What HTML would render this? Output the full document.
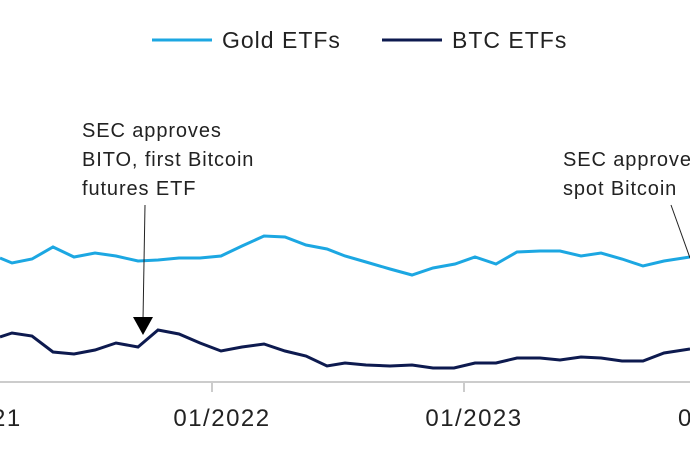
<!DOCTYPE html>
<html><head><style>body{margin:0;background:#fff}</style></head><body>
<svg width="690" height="455" xmlns="http://www.w3.org/2000/svg" font-family="Liberation Sans, sans-serif">
<line x1="152" y1="40" x2="212" y2="40" stroke="#1ca7e2" stroke-width="3"/>
<text x="222" y="48" font-size="23" letter-spacing="1" fill="#222">Gold ETFs</text>
<line x1="382" y1="40" x2="442" y2="40" stroke="#0d1a4f" stroke-width="3"/>
<text x="452" y="48" font-size="23" letter-spacing="1" fill="#222">BTC ETFs</text>
<g font-size="20" letter-spacing="0.9" fill="#222">
<text x="82" y="137">SEC approves</text>
<text x="82" y="166">BITO, first Bitcoin</text>
<text x="82" y="195">futures ETF</text>
<text x="563" y="166">SEC approves</text>
<text x="563" y="195">spot Bitcoin</text>
</g>
<line x1="0" y1="382" x2="690" y2="382" stroke="#ccc" stroke-width="2"/>
<line x1="212" y1="382" x2="212" y2="392" stroke="#ccc" stroke-width="2"/>
<line x1="464" y1="382" x2="464" y2="392" stroke="#ccc" stroke-width="2"/>
<g font-size="24" letter-spacing="1.5" fill="#222">
<text x="-8" y="426">21</text>
<text x="222" y="426" text-anchor="middle">01/2022</text>
<text x="474" y="426" text-anchor="middle">01/2023</text>
<text x="678" y="426">0</text>
</g>
<polyline fill="none" stroke="#1ca7e2" stroke-width="3" points="0,258 12,263 32,259 53,247 74,257 95,253 116,256 138,261 158,260 179,258 200,258 221,256 242,246 264,236 285,237 306,245 327,249 345,256 366,262 390,269 412,275 433,268 455,264 475,257 496,264 517,252 540,251 560,251 581,256 601,253 622,259 643,266 664,261 690,257"/>
<polyline fill="none" stroke="#0d1a4f" stroke-width="3" points="0,337 12,333 32,336 53,352 74,354 95,350 116,343 138,347 158,330 179,334 200,343 221,351 242,347 264,344 285,351 306,356 327,366 345,363 366,365 390,366 412,365 433,368 454,368 475,363 496,363 517,358 540,358 560,360 581,357 601,358 622,361 643,361 664,353 690,349"/>
<line x1="145" y1="205" x2="143" y2="320" stroke="#222" stroke-width="1"/>
<polygon points="133,317 153,317 143,335" fill="#000"/>
<line x1="671" y1="205" x2="690" y2="258" stroke="#222" stroke-width="1"/>
</svg>
</body></html>
